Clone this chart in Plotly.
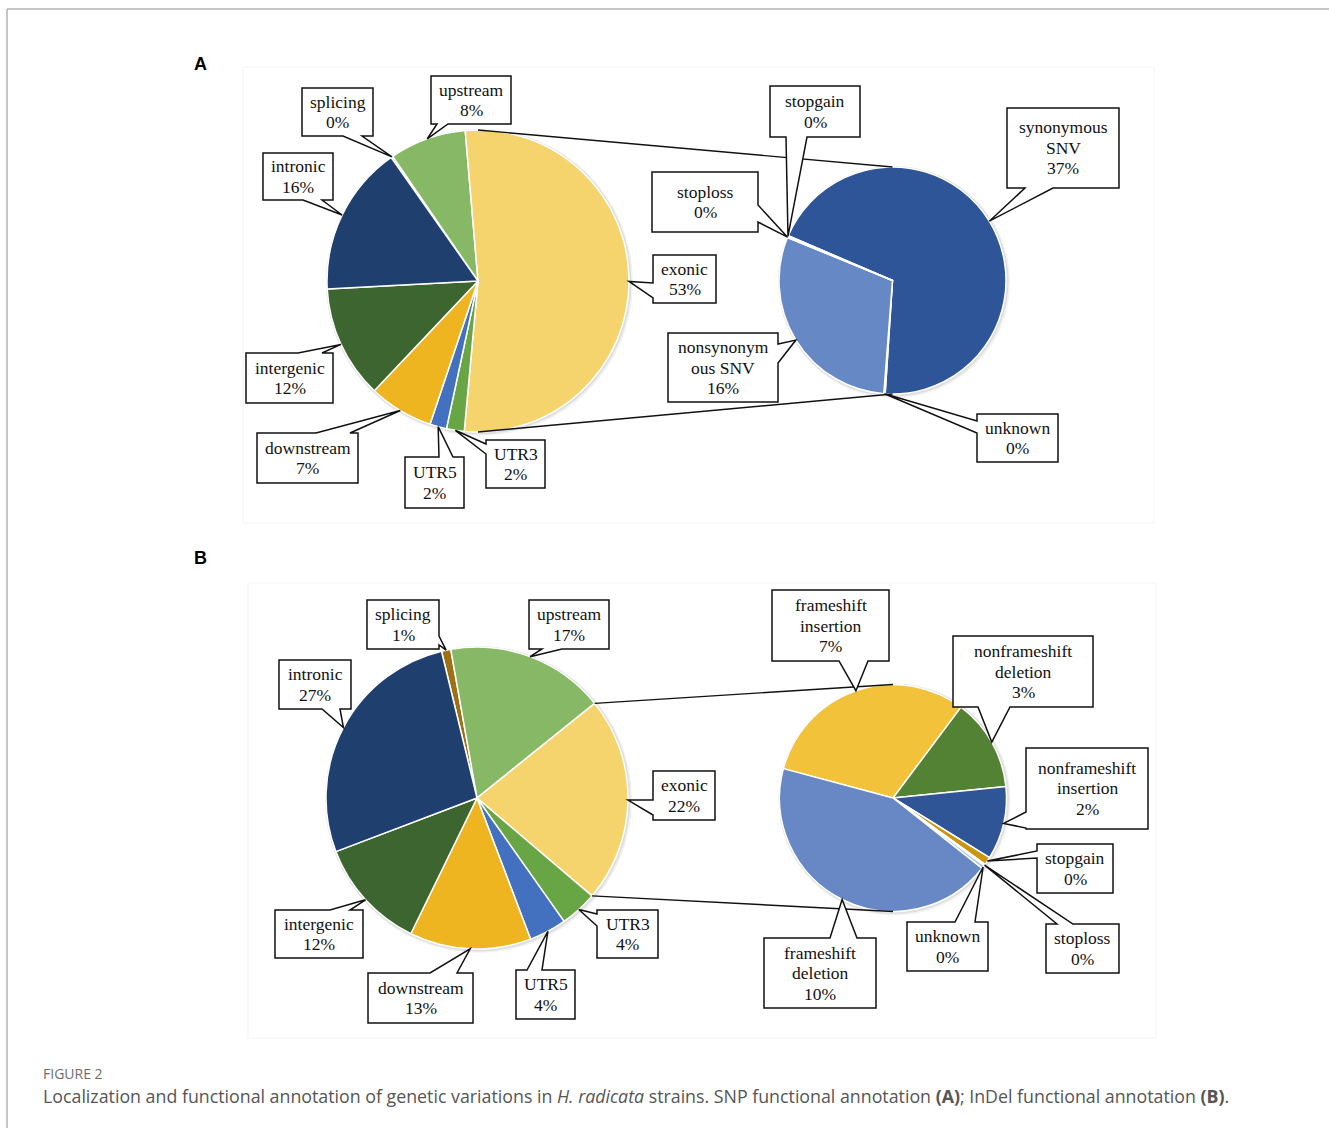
import math
import plotly.graph_objects as go

# ---------------- data ----------------
main_categories = ["splicing", "upstream", "exonic", "UTR3", "UTR5",
                   "downstream", "intergenic", "intronic"]
snp_main_values = [0.2, 8.2, 52.8, 1.9, 1.8, 6.9, 12.1, 16.1]
indel_main_values = [1, 17, 22, 4, 4, 13, 12, 27]

snp_exonic_categories = ["synonymous\nSNV", "unknown", "nonsynonym\nous SNV",
                         "stoploss", "stopgain"]
snp_exonic_values = [36.9, 0.1, 15.9, 0.05, 0.1]

indel_exonic_categories = ["frameshift\ninsertion", "nonframeshift\ndeletion",
                           "nonframeshift\ninsertion", "stopgain", "stoploss",
                           "unknown", "frameshift\ndeletion"]
indel_exonic_values = [6.85, 2.9, 2.3, 0.25, 0.05, 0.1, 9.6]

# ---------------- styles / layout ----------------
W, H = 1329, 1128
def X(x): return x / W
def Y(y): return 1 - y / H

main_colors = ["#9E7016", "#86B866", "#F5D36D", "#68A544", "#4470C0",
               "#EFB520", "#3D652F", "#1F3F6F"]
snp_sub_colors = ["#2E5597", "#E6B41E", "#6688C4", "#C9A227", "#F0C040"]
indel_sub_colors = ["#F2C23A", "#548235", "#2F5597", "#C8960F", "#8C8C8C",
                    "#A9C4EB", "#6788C4"]

# pie geometry (pixels): center x, center y, radius, rotation
pies = [
    dict(values=snp_main_values, labels=main_categories, colors=main_colors,
         cx=478, cy=281, r=151, rot=-35.1, pct="share",
         boxes=[(302, 88, 373, 136, "bottom", 343, 362),
                (431, 76, 511, 124, "bottom", 437, 448),
                (653, 255, 716, 303, "left", 283, 298),
                (486, 440, 545, 488, "left", 444, 454),
                (405, 457, 464, 508, "top", 439, 453),
                (257, 433, 358, 483, "top", 316, 350),
                (246, 353, 333, 403, "top", 298, 322),
                (263, 153, 333, 200, "bottom", 303, 322)]),
    dict(values=snp_exonic_values, labels=snp_exonic_categories, colors=snp_sub_colors,
         cx=892.5, cy=280.5, r=113.5, rot=-66.7, pct="raw",
         boxes=[(1007, 108, 1119, 188, "bottom", 1025, 1053),
                (977, 414, 1058, 462, "left", 421, 433),
                (668, 333, 778, 402, "right", 344, 363),
                (652, 172, 758, 232, "right", 205, 222),
                (770, 86, 860, 137, "bottom", 786, 807)]),
    dict(values=indel_main_values, labels=main_categories, colors=main_colors,
         cx=477, cy=798, r=151, rot=-13.6, pct="share",
         boxes=[(367, 600, 439, 649, "right", 636, 645),
                (529, 600, 609, 649, "bottom", 542, 562),
                (653, 771, 715, 820, "left", 800, 815),
                (597, 910, 658, 958, "left", 914, 926),
                (516, 970, 575, 1019, "top", 527, 542),
                (368, 973, 473, 1023, "top", 430, 457),
                (275, 910, 363, 958, "top", 330, 350),
                (279, 660, 351, 709, "bottom", 322, 340)]),
    dict(values=indel_exonic_values, labels=indel_exonic_categories, colors=indel_sub_colors,
         cx=893, cy=798, r=113.5, rot=-75, pct="raw",
         boxes=[(772, 590, 889, 661, "bottom", 839, 868),
                (953, 636, 1093, 707, "bottom", 978, 1010),
                (1026, 748, 1148, 829, "left", 812, 828),
                (1037, 844, 1113, 893, "left", 851, 858),
                (1046, 924, 1119, 973, "top", 1057, 1073),
                (907, 922, 988, 971, "top", 955, 975),
                (764, 938, 876, 1008, "top", 830, 857)]),
]

serif = "Liberation Serif, Times New Roman, serif"

def pt(cx, cy, r, ang):
    a = math.radians(ang)
    return cx + r * math.sin(a), cy - r * math.cos(a)

def slice_angles(p):
    tot = sum(p["values"])
    out = []
    cur = p["rot"]
    for v in p["values"]:
        span = v / tot * 360
        out.append((cur, cur + span))
        cur += span
    return out

fig = go.Figure()
shapes = []
annotations = []

# frame
shapes.append(dict(type="line", xref="paper", yref="paper", x0=X(7), x1=X(1329),
                   y0=Y(9), y1=Y(9), line=dict(color="#b3b3b3", width=1.5)))
shapes.append(dict(type="line", xref="paper", yref="paper", x0=X(7), x1=X(7),
                   y0=Y(9), y1=Y(1128), line=dict(color="#b3b3b3", width=1.5)))
# faint panel image borders
for (x0, y0, x1, y1) in [(243, 67, 1154, 523), (248, 583, 1156, 1038)]:
    shapes.append(dict(type="rect", xref="paper", yref="paper", layer="below",
                       x0=X(x0), x1=X(x1), y0=Y(y1), y1=Y(y0),
                       line=dict(color="#f4f4f4", width=1)))

for p in pies:
    cx, cy, r = p["cx"], p["cy"], p["r"]
    fig.add_trace(go.Pie(
        values=p["values"], labels=[l.replace("\n", " ") for l in p["labels"]],
        marker=dict(colors=p["colors"], line=dict(color="white", width=1.5)),
        sort=False, direction="clockwise", rotation=p["rot"],
        textinfo="none", hoverinfo="label+value", showlegend=False,
        domain=dict(x=[X(cx - r), X(cx + r)], y=[Y(cy + r), Y(cy - r)]),
    ))
    # soft shadow
    for k, alpha in [(4, 0.05), (2.5, 0.08)]:
        shapes.append(dict(type="circle", xref="paper", yref="paper", layer="below",
                           x0=X(cx - r - 1), x1=X(cx + r + k),
                           y0=Y(cy + r + k), y1=Y(cy - r - 1),
                           fillcolor=f"rgba(0,0,0,{alpha})", line=dict(width=0)))

# connector lines (exonic slice -> secondary pie top/bottom)
for main, sub in [(pies[0], pies[1]), (pies[2], pies[3])]:
    s, e = slice_angles(main)[main["labels"].index("exonic")]
    s, e = max(s, 0), min(e, 180)
    p1 = pt(main["cx"], main["cy"], main["r"], s)
    p2 = pt(main["cx"], main["cy"], main["r"], e)
    t1 = (sub["cx"], sub["cy"] - sub["r"])
    t2 = (sub["cx"], sub["cy"] + sub["r"])
    for a, b in [(p1, t1), (p2, t2)]:
        shapes.append(dict(type="line", xref="paper", yref="paper",
                           x0=X(a[0]), y0=Y(a[1]), x1=X(b[0]), y1=Y(b[1]),
                           line=dict(color="#111111", width=1.4)))

def P(x, y):
    return f"{X(x):.6f},{Y(y):.6f}"

# callouts
for p in pies:
    tot = sum(p["values"])
    angs = slice_angles(p)
    for lab, v, (s, e), box in zip(p["labels"], p["values"], angs, p["boxes"]):
        x0, y0, x1, y1, side, a, b = box
        tx, ty = pt(p["cx"], p["cy"], p["r"], (s + e) / 2)
        pts = [(x0, y0)]
        if side == "top":
            pts += [(a, y0), (tx, ty), (b, y0)]
        pts += [(x1, y0)]
        if side == "right":
            pts += [(x1, a), (tx, ty), (x1, b)]
        pts += [(x1, y1)]
        if side == "bottom":
            pts += [(b, y1), (tx, ty), (a, y1)]
        pts += [(x0, y1)]
        if side == "left":
            pts += [(x0, b), (tx, ty), (x0, a)]
        path = "M " + " L ".join(P(*q) for q in pts) + " Z"
        shapes.append(dict(type="path", xref="paper", yref="paper", path=path,
                           fillcolor="white", line=dict(color="#111111", width=1.5)))
        pct = v / tot * 100 if p["pct"] == "share" else v
        lines = lab.split("\n") + [f"{round(pct)}%"]
        n = len(lines)
        cyb = (y0 + y1) / 2
        step = 20.5
        for i, t in enumerate(lines):
            ly = cyb + (i - (n - 1) / 2) * step
            annotations.append(dict(x=X((x0 + x1) / 2), y=Y(ly), xref="paper", yref="paper",
                                    text=t, showarrow=False, xanchor="center", yanchor="middle",
                                    font=dict(family=serif, size=17.5, color="#111111")))

# panel letters
for letter, y in [("A", 64), ("B", 558)]:
    annotations.append(dict(x=X(200), y=Y(y), xref="paper", yref="paper", text=f"<b>{letter}</b>",
                            showarrow=False, xanchor="center", yanchor="middle",
                            font=dict(family="Liberation Sans, Arial, sans-serif", size=18, color="#000")))

# caption
annotations.append(dict(x=X(41), y=Y(1073), xref="paper", yref="paper", text="FIGURE 2",
                        showarrow=False, xanchor="left", yanchor="middle",
                        font=dict(family="Open Sans, Lato, sans-serif", size=14, color="#6e6e6e")))
annotations.append(dict(
    x=X(41), y=Y(1096), xref="paper", yref="paper",
    text=("Localization and functional annotation of genetic variations in <i>H. radicata</i> strains. "
          "SNP functional annotation <b>(A)</b>; InDel functional annotation <b>(B)</b>."),
    showarrow=False, xanchor="left", yanchor="middle",
    font=dict(family="Open Sans, Lato, sans-serif", size=17.8, color="#555555")))

fig.update_layout(width=W, height=H, margin=dict(l=0, r=0, t=0, b=0),
                  paper_bgcolor="white", plot_bgcolor="white",
                  shapes=shapes, annotations=annotations)
fig.write_html("out.html")
